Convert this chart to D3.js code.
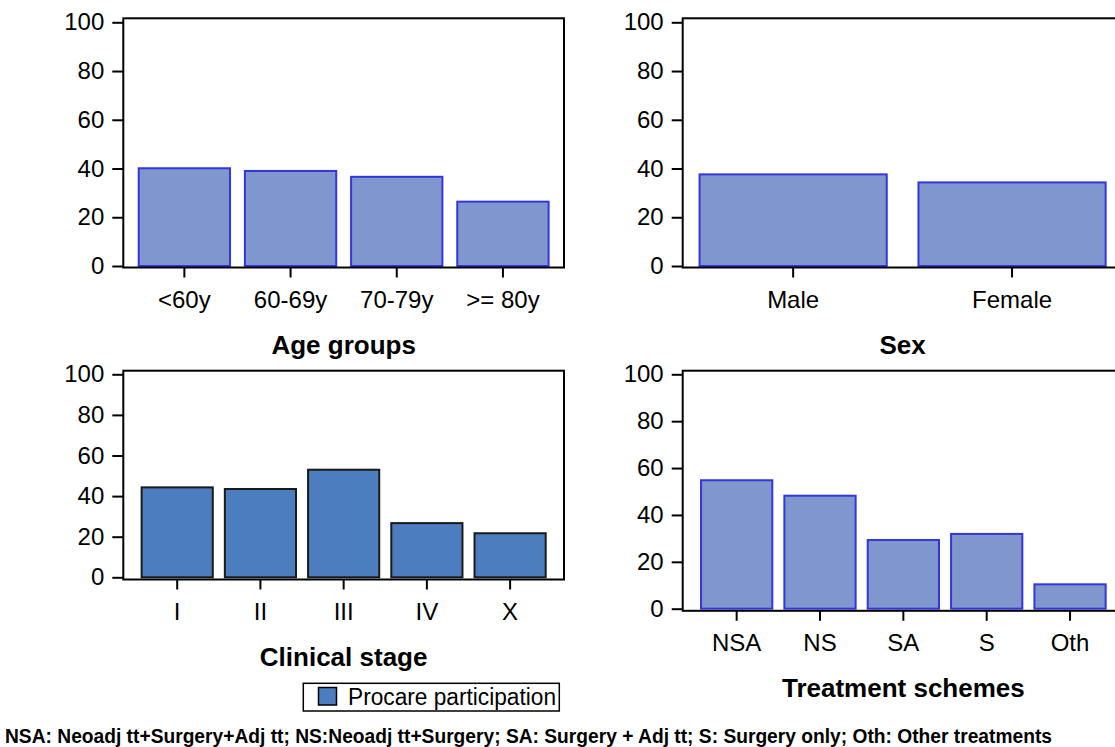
<!DOCTYPE html>
<html>
<head>
<meta charset="utf-8">
<script src="https://cdn.jsdelivr.net/npm/d3@7"></script>
<style>
  body { margin: 0; background: #fff; }
  svg { display: block; font-family: "Liberation Sans", Arial, sans-serif; }
</style>
</head>
<body>
<svg id="chart" width="1115" height="747"></svg>
<script>
// values (percent participation)
var ageGroups = ["<60y", "60-69y", "70-79y", ">= 80y"];
var ageValues = [40.1, 39.0, 36.6, 26.4];

var sexGroups = ["Male", "Female"];
var sexValues = [37.6, 34.3];

var stageGroups = ["I", "II", "III", "IV", "X"];
var stageValues = [44.3, 43.5, 53.0, 26.7, 21.7];

var treatGroups = ["NSA", "NS", "SA", "S", "Oth"];
var treatValues = [54.8, 48.2, 29.3, 31.9, 10.4];

var yTicks = [0, 20, 40, 60, 80, 100];

var legendLabel = "Procare participation";
var footnote = "NSA: Neoadj tt+Surgery+Adj tt; NS:Neoadj tt+Surgery; SA: Surgery + Adj tt; S: Surgery only; Oth: Other treatments";

var svg = d3.select("#chart");

function drawPanel(p) {
    var g = svg.append("g");

    var x = d3.scaleBand()
        .domain(p.cats)
        .range([p.left, p.right])
        .paddingInner(p.padIn)
        .paddingOuter(p.padOut);

    var y = d3.scaleLinear()
        .domain([0, 100])
        .range([p.y0, p.y100]);

    // bars
    g.selectAll("rect.bar")
        .data(p.vals)
        .enter().append("rect")
        .attr("class", "bar")
        .attr("x", function (d, i) { return x(p.cats[i]); })
        .attr("width", x.bandwidth())
        .attr("y", function (d) { return y(d); })
        .attr("height", function (d) { return y(0) - y(d); })
        .attr("fill", p.fill)
        .attr("stroke", p.stroke)
        .attr("stroke-width", 2);

    // frame
    g.append("rect")
        .attr("x", p.left)
        .attr("y", p.top)
        .attr("width", p.right - p.left)
        .attr("height", p.bottom - p.top)
        .attr("fill", "none")
        .attr("stroke", "#000")
        .attr("stroke-width", 2);

    var yAxis = g.append("g")
        .attr("transform", "translate(" + p.left + ",0)")
        .call(d3.axisLeft(y).tickValues(yTicks).tickSize(11).tickSizeOuter(0).tickPadding(8));

    var xAxis = g.append("g")
        .attr("transform", "translate(0," + p.bottom + ")")
        .call(d3.axisBottom(x).tickSize(10).tickSizeOuter(0).tickPadding(13));

    [yAxis, xAxis].forEach(function (a) {
        a.select(".domain").remove();
        a.selectAll("line").attr("stroke", "#000").attr("stroke-width", 2);
        a.selectAll("text")
            .attr("fill", "#000")
            .style("font-size", "24px")
            .style("font-family", "'Liberation Sans', Arial, sans-serif");
    });

    g.append("text")
        .attr("x", (p.left + p.right) / 2)
        .attr("y", p.bottom + 86)
        .attr("text-anchor", "middle")
        .style("font-size", "26px")
        .style("font-weight", "bold")
        .text(p.title);
}

var lightFill = "#7f97cc", lightStroke = "#3535e0";
var darkFill = "#4b7dbf", darkStroke = "#1a1a1a";

drawPanel({cats: ageGroups, vals: ageValues, title: "Age groups",
    left: 123.3, right: 564, top: 18.3, bottom: 267.5, y0: 266, y100: 22.3,
    padIn: 0.14, padOut: 0.145, fill: lightFill, stroke: lightStroke});

drawPanel({cats: sexGroups, vals: sexValues, title: "Sex",
    left: 682.7, right: 1122.5, top: 18.3, bottom: 267.5, y0: 266, y100: 22.3,
    padIn: 0.145, padOut: 0.077, fill: lightFill, stroke: lightStroke});

drawPanel({cats: stageGroups, vals: stageValues, title: "Clinical stage",
    left: 123.3, right: 564, top: 370.7, bottom: 579.5, y0: 577.3, y100: 374.3,
    padIn: 0.145, padOut: 0.22, fill: darkFill, stroke: darkStroke});

drawPanel({cats: treatGroups, vals: treatValues, title: "Treatment schemes",
    left: 682.7, right: 1124, top: 370.7, bottom: 610.8, y0: 608.7, y100: 374.3,
    padIn: 0.145, padOut: 0.22, fill: lightFill, stroke: lightStroke});

// legend
var legend = svg.append("g");
legend.append("rect")
    .attr("x", 303.3).attr("y", 683.3)
    .attr("width", 256).attr("height", 27.7)
    .attr("fill", "#fff").attr("stroke", "#000").attr("stroke-width", 1.5);
legend.append("rect")
    .attr("x", 318.5).attr("y", 687.5)
    .attr("width", 18).attr("height", 17.5)
    .attr("fill", darkFill).attr("stroke", "#000").attr("stroke-width", 1.5);
legend.append("text")
    .attr("x", 348).attr("y", 704.5)
    .attr("textLength", 208)
    .attr("lengthAdjust", "spacingAndGlyphs")
    .style("font-size", "23px")
    .text(legendLabel);

// footnote
svg.append("text")
    .attr("x", 5).attr("y", 742.5)
    .attr("textLength", 1047)
    .attr("lengthAdjust", "spacingAndGlyphs")
    .style("font-size", "19.5px")
    .style("font-weight", "bold")
    .text(footnote);
</script>
</body>
</html>
